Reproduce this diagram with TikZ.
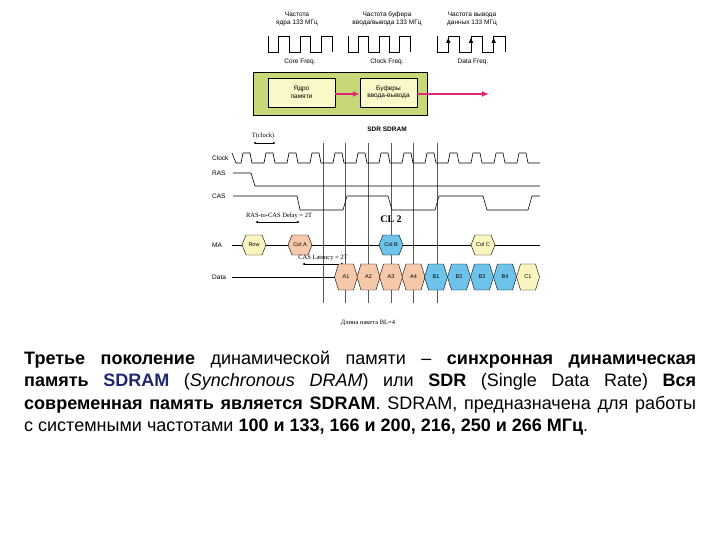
\documentclass[tikz,border=0pt]{standalone}
\usepackage{fontspec}
\setmainfont{Liberation Sans}
\newfontfamily\serf{Liberation Serif}
\usetikzlibrary{arrows.meta}
\definecolor{salm}{RGB}{246,200,170}
\definecolor{blu}{RGB}{110,195,235}
\definecolor{yel}{RGB}{250,245,190}
\definecolor{grn}{RGB}{200,215,120}
\definecolor{inbox}{RGB}{250,248,200}
\definecolor{mag}{RGB}{225,40,120}
\definecolor{navy}{RGB}{30,40,110}
\newcommand\hexa[7]{% name,x,y,halfw,halfh,color,text
  \fill[#6] ({#2-#4},#3) -- ({#2-#4+4},{#3-#5}) -- ({#2+#4-4},{#3-#5}) -- ({#2+#4},#3) -- ({#2+#4-4},{#3+#5}) -- ({#2-#4+4},{#3+#5}) -- cycle;
  \draw[line width=0.4pt] ({#2-#4},#3) -- ({#2-#4+4},{#3-#5}) -- ({#2+#4-4},{#3-#5}) -- ({#2+#4},#3) -- ({#2+#4-4},{#3+#5}) -- ({#2-#4+4},{#3+#5}) -- cycle;
  \node[tiny] (#1) at (#2,#3) {#7};}
\newcommand\sqwave[3]{% x0, width, arrows
  \draw[line width=0.6pt] (#1,36) -- (#1,52)
   foreach \k in {0,1,2}{ -- ({#1+#2/6*(2*\k+1)},52) -- ({#1+#2/6*(2*\k+1)},36) -- ({#1+#2/6*(2*\k+2)},36) -- ({#1+#2/6*(2*\k+2)},52)};
  \ifnum#3=1 \foreach \k in {0,1,2}{\fill ({#1+#2/6*(2*\k+1)},38) -- ++(-2.2,5) -- ++(4.4,0) -- cycle;}\fi}
\begin{document}
\begin{tikzpicture}[x=1pt,y=-1pt,
  tiny/.style={font=\fontsize{5.5}{6}\selectfont,inner sep=0pt,align=center},
  lbl/.style={font=\fontsize{6.5}{7.5}\selectfont,inner sep=0pt,align=center},
  ser/.style={font=\serf\fontsize{6.5}{7.5}\selectfont,inner sep=0pt},
  sig/.style={line width=0.6pt},
  thin/.style={line width=0.35pt,gray!70!black},
  dim/.style={{Latex[length=3pt,width=2pt]}-{Latex[length=3pt,width=2pt]},line width=0.4pt}]
\useasboundingbox (0,0) rectangle (720,540);
% top titles
\node[lbl] (t1) at (297,19) {Частота\\ядра 133 МГц};
\node[lbl] (t2) at (387,19) {Частота буфера\\ввода/вывода 133 МГц};
\node[lbl] (t3) at (472,19) {Частота вывода\\данных 133 МГц};
\sqwave{268}{64}{0}
\sqwave{348}{62}{0}
\sqwave{437}{68}{1}
\node[lbl] (f1) at (300,62) {Core Freq.};
\node[lbl] (f2) at (387,62) {Clock Freq.};
\node[lbl] (f3) at (473,62) {Data Freq.};
% green box
\draw[fill=grn,line width=0.5pt] (253,72) rectangle (427,115);
\node[draw,fill=inbox,minimum width=67pt,minimum height=29pt,line width=0.5pt,lbl] (core) at (301.5,92.5) {Ядро\\памяти};
\node[draw,fill=inbox,minimum width=57pt,minimum height=29pt,line width=0.5pt,lbl] (buf) at (388.5,92.5) {Буферы\\ввода-вывода};
\coordinate (out) at (489,94);
\draw[-{Latex[length=7pt,width=6pt]},mag,line width=1.3pt] (core.east|-0,94) -- (buf.west|-0,94);
\draw[-{Latex[length=7pt,width=6pt]},mag,line width=1.3pt] (buf.east|-0,94) -- (out);
\node[font=\bfseries\fontsize{6.5}{7}\selectfont] (sdr) at (387,129) {SDR SDRAM};
% vertical grid
\foreach \x in {323,345,368,391,413,437}{\draw[thin] (\x,143) -- (\x,303);}
% clock
\node[ser] (tc) at (263,136) {T(clock)};
\draw[dim] (253,143) -- (276,143);
\node[lbl,anchor=west] (clk) at (212,158) {Clock};
\draw[sig] (232,153) -- (236,163) foreach \i in {0,...,12}{ -- ({241+23*\i},163) -- ({243+23*\i},153) -- ({250+23*\i},153) -- ({252+23*\i},163)} -- (540,163);
% RAS
\node[lbl,anchor=west] (ras) at (212,173) {RAS};
\draw[sig] (233,173) -- (251,173) -- (255,186) -- (540,186);
% CAS
\node[lbl,anchor=west] (cas) at (212,196) {CAS};
\draw[sig] (233,196) -- (297,196) -- (300,210) -- (343,210) -- (347,196) -- (388,196) -- (392,210) -- (435,210) -- (439,196) -- (483,196) -- (487,210) -- (528,210) -- (532,196) -- (540,196);
\node[ser] (rcd) at (279,216) {RAS-to-CAS Delay = 2T};
\draw[dim] (255,222) -- (300,222);
\node[font=\serf\bfseries\fontsize{10}{11}\selectfont] (cl) at (391,219) {CL 2};
% MA
\node[lbl,anchor=west] (ma) at (212,245) {MA};
\draw[sig] (232,245) -- (540,245);
\hexa{row}{254}{245}{12}{10}{yel}{Row}
\hexa{cola}{300}{245}{12}{10}{salm}{Col A}
\hexa{colb}{391}{245}{12}{10}{blu}{Col B}
\hexa{colc}{483}{245}{12}{10}{yel}{Col C}
\node[ser] (casl) at (323,258) {CAS Latency = 2T};
\draw[dim] (302,264) -- (344,264);
% Data
\node[lbl,anchor=west] (data) at (212,277) {Data};
\draw[sig] (232,277) -- (336,277);
\hexa{a1}{346}{277}{11.5}{13}{salm}{A1}
\hexa{a2}{368.5}{277}{11.5}{13}{salm}{A2}
\hexa{a3}{391}{277}{11.5}{13}{salm}{A3}
\hexa{a4}{413.5}{277}{11.5}{13}{salm}{A4}
\hexa{b1}{436}{277}{11.5}{13}{blu}{B1}
\hexa{b2}{459}{277}{11.5}{13}{blu}{B2}
\hexa{b3}{482}{277}{11.5}{13}{blu}{B3}
\hexa{b4}{505}{277}{11.5}{13}{blu}{B4}
\hexa{c1}{528}{277}{11.5}{13}{yel}{C1}
\node[ser] (bl) at (368,323) {Длина пакета BL=4};
% paragraph
\node[anchor=north west,text width=672pt,align=justify,inner sep=0pt,font=\fontsize{18}{22.3}\selectfont] (par) at (24,351)
{\textbf{Третье поколение} динамической памяти – \textbf{синхронная динамическая}\linebreak \textbf{память} \textbf{\textcolor{navy}{SDRAM}} (\textit{Synchronous DRAM}) или \textbf{SDR} (Single Data Rate) \textbf{Вся}\linebreak \textbf{современная память является SDRAM}. SDRAM, предназначена для работы\linebreak с~системными частотами \textbf{100 и 133, 166 и 200, 216, 250 и 266 МГц}.};
\end{tikzpicture}
\end{document}
